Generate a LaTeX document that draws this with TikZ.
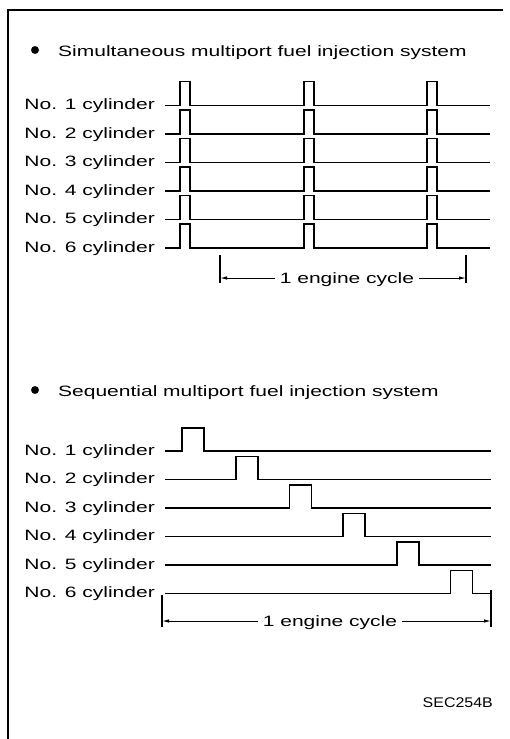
\documentclass[tikz,border=0pt]{standalone}
\usepackage{fontspec}
\setmainfont{Liberation Sans}[FakeStretch=1.4]
\newfontfamily\codefont{Liberation Sans}[FakeStretch=1.14]
\usetikzlibrary{arrows.meta}

\begin{document}
\begin{tikzpicture}[x=1pt,y=-1pt,
  every node/.style={inner sep=0pt,font=\fontsize{15}{18}\selectfont},
  cyl/.style={anchor=base east},
  wave/.style={line width=1.8pt,line join=miter},
  tickline/.style={line width=1.4pt},
  dimarr/.style={line width=1pt,-{Latex[length=7pt,width=3.5pt]}}]
  \useasboundingbox (0,0) rectangle (509,739);
  % frame
  \draw[line width=2pt] (7.5,739) -- (7.5,10) -- (503,10);

  % simultaneous
  \filldraw (35,50) circle (3.7pt);
  \node[anchor=base west] (simtitle) at (58,56) {Simultaneous multiport fuel injection system};
  \foreach \i [evaluate=\i as \yy using {105.5+28.5*(\i-1)}] in {1,...,6} {
    \node[cyl] (sim\i) at (155,\yy+4) {No. \i\ cylinder};
    \draw[wave] (165,\yy) foreach \p in {180,304,427} { -- (\p,\yy) -- (\p,\yy-24) -- (\p+10,\yy-24) -- (\p+10,\yy) } -- (490,\yy);
  }
  \node[anchor=base,inner xsep=5pt] (simcyc) at (347,283) {1 engine cycle};
  \coordinate (simL) at (220,278);
  \coordinate (simR) at (466,278);
  \draw[tickline] (220,255) -- (220,283);
  \draw[tickline] (466,255) -- (466,283);
  \draw[dimarr] (simcyc.west |- simL) -- (simL);
  \draw[dimarr] (simcyc.east |- simR) -- (simR);

  % sequential
  \filldraw (35,390) circle (3.7pt);
  \node[anchor=base west] (seqtitle) at (58,396) {Sequential multiport fuel injection system};
  \foreach \i [evaluate=\i as \yy using {451+28.5*(\i-1)},
               evaluate=\i as \xx using {182+53.7*(\i-1)}] in {1,...,6} {
    \node[cyl] (seq\i) at (155,\yy+4) {No. \i\ cylinder};
    \draw[wave] (165,\yy) -- (\xx,\yy) -- ++(0,-23) -- ++(22,0) -- ++(0,23) -- (491,\yy);
  }
  \node[anchor=base,inner xsep=5pt] (seqcyc) at (330,626) {1 engine cycle};
  \coordinate (seqL) at (162,621);
  \coordinate (seqR) at (491,621);
  \draw[tickline] (162,595) -- (162,627);
  \draw[tickline] (491,590) -- (491,627);
  \draw[dimarr] (seqcyc.west |- seqL) -- (seqL);
  \draw[dimarr] (seqcyc.east |- seqR) -- (seqR);

  \node[anchor=base east,font=\codefont\fontsize{14}{16}\selectfont] (code) at (493,707) {SEC254B};
\end{tikzpicture}
\end{document}
